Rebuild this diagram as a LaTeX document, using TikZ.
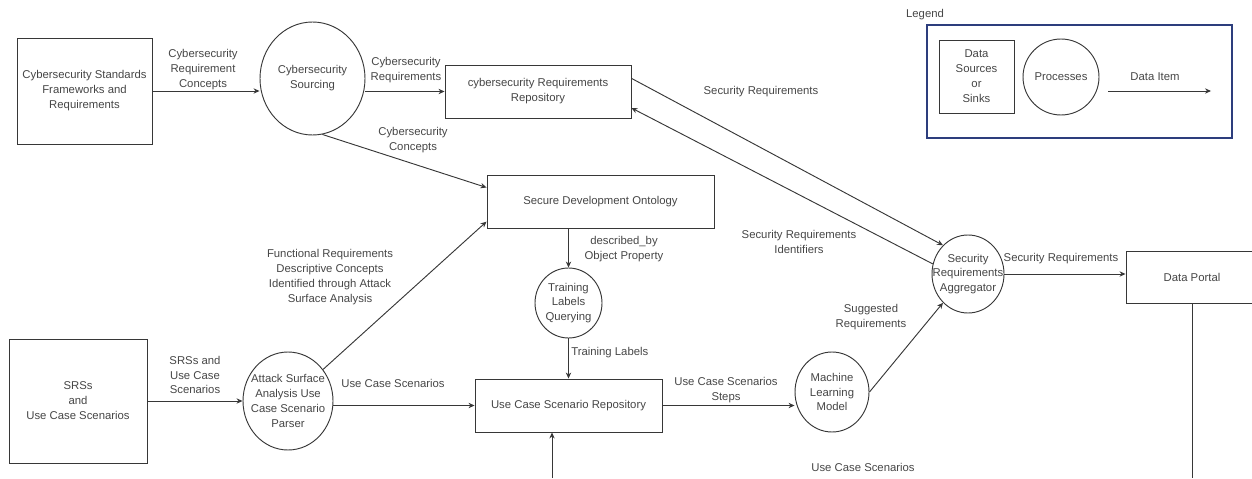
\documentclass[tikz,border=0pt]{standalone}
\usepackage{fontspec}
\setmainfont{Liberation Sans}
\usepackage{xcolor}
\usepackage{tikz}
\usetikzlibrary{shapes.geometric, arrows.meta}
\definecolor{dfdLine}{RGB}{55, 55, 55}
\definecolor{dfdText}{RGB}{70, 70, 70}
\definecolor{dfdNavy}{RGB}{45, 62, 125}
\tikzset{
    base/.style={
        font=\fontsize{8.5}{11.2}\selectfont,
        align=center,
        text=dfdText
    },
    store/.style={
        base,
        rectangle,
        draw=dfdLine,
        line width=0.7pt,
        fill=white,
        inner sep=1pt
    },
    proc/.style={
        base,
        ellipse,
        draw=dfdLine,
        line width=0.7pt,
        fill=white,
        inner sep=-8pt
    },
    flow/.style={
        -{Stealth[length=4.5pt, width=4pt]},
        line width=0.7pt,
        color=dfdLine
    },
    wire/.style={
        line width=0.7pt,
        color=dfdLine
    },
    tag/.style={
        base,
        inner sep=0pt
    }
}

\begin{document}
\begin{tikzpicture}[x=0.75pt, y=-0.75pt]
  \useasboundingbox (0,0) rectangle (1252,478);

  % Sources and sinks
  \node[store, minimum width=101.25pt, minimum height=79.5pt] (std) at (84.5,91) {Cybersecurity Standards\\Frameworks and\\Requirements};
  \node[store, minimum width=139.5pt, minimum height=39.75pt] (ccrepo) at (538,91.5) {cybersecurity Requirements\\Repository};
  \node[store, minimum width=170.25pt, minimum height=39.75pt] (sdo) at (600.5,201.5) {Secure Development Ontology};
  \node[store, minimum width=140.25pt, minimum height=39.75pt] (ucsrepo) at (568.5,405.5) {Use Case Scenario Repository};
  \node[store, minimum width=103.5pt, minimum height=93pt] (srs) at (78,401) {SRSs\\and\\Use Case Scenarios};
  \node[store, minimum width=99pt, minimum height=39pt] (portal) at (1192,277) {Data Portal};

  % Processes
  \node[proc, minimum width=78.75pt, minimum height=84.75pt] (sourcing) at (312.5,78.5) {Cybersecurity\\Sourcing};
  \node[proc, minimum width=50.25pt, minimum height=52.5pt] (tlq) at (568.5,303) {Training\\Labels\\Querying};
  \node[proc, minimum width=67.5pt, minimum height=73.5pt] (parser) at (288,401) {Attack Surface\\Analysis Use\\Case Scenario\\Parser};
  \node[proc, minimum width=55.5pt, minimum height=60pt] (ml) at (832,392) {Machine\\Learning\\Model};
  \node[proc, minimum width=54pt, minimum height=58.5pt] (agg) at (968,274) {Security\\Requirements\\Aggregator};

  % Open ends
  \coordinate (portalout) at (1192,478);
  \coordinate (ucsin) at (552,478);

  % Connections
  \draw[flow] (std.east) -- (std.east -| sourcing.west);
  \draw[flow] (ccrepo.west -| sourcing.east) -- (ccrepo.west);
  \draw[flow] (sourcing.-80) -- (sdo.173);
  \draw[flow] (parser.42) -- (sdo.190);
  \draw[flow] (ccrepo.8) -- (agg.131);
  \draw[flow] (agg.164) -- (ccrepo.-10);
  \draw[flow] (sdo.south -| tlq.north) -- (tlq.north);
  \draw[flow] (tlq.south) -- (ucsrepo.north);
  \draw[flow] (srs.east) -- (parser.west);
  \draw[flow] (ucsrepo.west -| parser.east) -- (ucsrepo.west);
  \draw[flow] (ucsrepo.east) -- (ucsrepo.east -| ml.west);
  \draw[flow] (ml.east) -- (agg.229);
  \draw[flow] (agg.east) -- (agg.east -| portal.west);
  \draw[wire] (portal.south) -- (portalout);
  \draw[flow] (ucsin) -- (ucsin |- ucsrepo.south);

  % Data items
  \node[tag] (lconcepts) at (203,70) {Cybersecurity\\Requirement\\Concepts};
  \node[tag] (lccreq) at (406,70) {Cybersecurity\\Requirements};
  \node[tag] (lccon) at (413,140) {Cybersecurity\\Concepts};
  \node[tag] (lsecreq) at (761,92) {Security Requirements};
  \node[tag] (lsecid) at (799,242) {Security Requirements\\Identifiers};
  \node[tag] (lportal) at (1061,259) {Security Requirements};
  \node[tag] (lsugg) at (871,317) {Suggested\\Requirements};
  \node[tag] (lucsbot) at (863,467) {Use Case Scenarios};
  \node[tag] (lsteps) at (726,390) {Use Case Scenarios\\Steps};
  \node[tag, anchor=west] (ltrain) at (571,353) {Training Labels};
  \node[tag] (ldesc) at (624,249) {described\_by\\Object Property};
  \node[tag] (lucs) at (393,383) {Use Case Scenarios};
  \node[tag] (lsrs) at (195,375) {SRSs and\\Use Case\\Scenarios};
  \node[tag] (lfunc) at (330,277) {Functional Requirements\\Descriptive Concepts\\Identified through Attack\\Surface Analysis};

  % Legend
  \node[tag] (legtitle) at (925,15) {Legend};
  \node[draw=dfdNavy, line width=1pt, minimum width=228.75pt, minimum height=84.75pt, inner sep=0pt] (legframe) at (1079.5,81.5) {};
  \node[store, minimum width=56.25pt, minimum height=54.75pt] (legstore) at (976.5,76.5) {Data\\Sources\\or\\Sinks};
  \node[proc, circle, minimum size=57pt] (legproc) at (1061,77) {Processes};
  \coordinate (legfrom) at (1108,91);
  \coordinate (legto) at (1211,91);
  \draw[flow] (legfrom) -- (legto);
  \node[tag] (legitem) at (1155,77) {Data Item};
\end{tikzpicture}
\end{document}
